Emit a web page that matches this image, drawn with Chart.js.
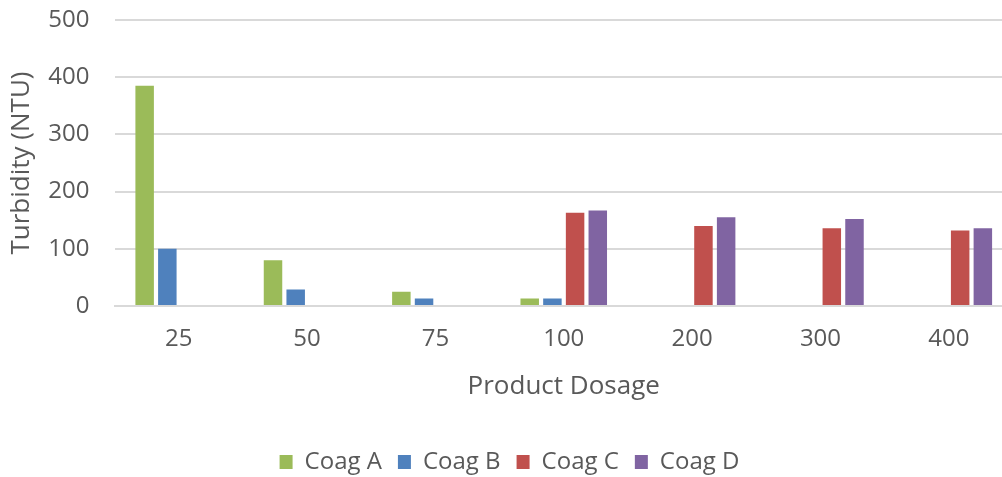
<!DOCTYPE html>
<html>
<head>
<meta charset="utf-8">
<script src="https://cdn.jsdelivr.net/npm/chart.js@4"></script>
<style>
  html, body { margin: 0; padding: 0; background: #fff; overflow: hidden; }
  #wrap { width: 1013px; height: 484px; position: relative; }
</style>
</head>
<body>
<div id="wrap"><canvas id="chart"></canvas></div>
<script>
// categorias e valores
const dosagens = ['25', '50', '75', '100', '200', '300', '400'];
const coagA = [385, 80, 25, 13, null, null, null];
const coagB = [100, 29, 13, 13, null, null, null];
const coagC = [null, null, null, 163, 140, 136, 132];
const coagD = [null, null, null, 167, 155, 152, 136];
const ticksY = [0, 100, 200, 300, 400, 500];

const FONTE = "'Open Sans', 'Noto Sans', sans-serif";
const CINZA = '#595959';

function serie(label, data, cor) {
  return {
    label, data,
    backgroundColor: cor,
    borderWidth: 0,
    barPercentage: 0.815,
    categoryPercentage: 0.707,
  };
}

new Chart(document.getElementById('chart'), {
  type: 'bar',
  data: {
    labels: dosagens,
    datasets: [
      serie('Coag A', coagA, '#9BBB59'),
      serie('Coag B', coagB, '#4F81BD'),
      serie('Coag C', coagC, '#C0504D'),
      serie('Coag D', coagD, '#8064A2'),
    ]
  },
  options: {
    responsive: true,
    maintainAspectRatio: false,
    animation: false,
    layout: { padding: { top: 0, left: 6, right: 0, bottom: 0 } },
    plugins: {
      legend: {
        position: 'bottom',
        labels: {
          color: CINZA,
          font: { family: FONTE, size: 24 },
          boxWidth: 13, boxHeight: 14,
          padding: 16,
        }
      },
      tooltip: { enabled: false }
    },
    scales: {
      x: {
        grid: { display: false, drawTicks: false },
        border: { color: '#d9d9d9', width: 2 },
        ticks: { color: CINZA, font: { family: FONTE, size: 24 }, padding: 19 },
        title: { display: true, text: 'Product Dosage', color: CINZA,
          font: { family: FONTE, size: 26 }, padding: { top: 10, bottom: 32 } },
        // altura fixa do eixo x para casar com a figura
        afterFit: s => { s.height = 128; }
      },
      y: {
        min: 0, max: 500,
        afterBuildTicks: axis => { axis.ticks = ticksY.map(v => ({ value: v })); },
        grid: { color: '#d9d9d9', lineWidth: 2, drawTicks: false },
        border: { display: false },
        ticks: { color: CINZA, font: { family: FONTE, size: 24 }, padding: 25 },
        title: { display: true, text: 'Turbidity (NTU)', color: CINZA,
          font: { family: FONTE, size: 26 }, padding: { top: 0, bottom: 12 } },
        afterFit: s => { s.width = 108.5; s.paddingTop = 20; }
      }
    }
  }
});
</script>
</body>
</html>
